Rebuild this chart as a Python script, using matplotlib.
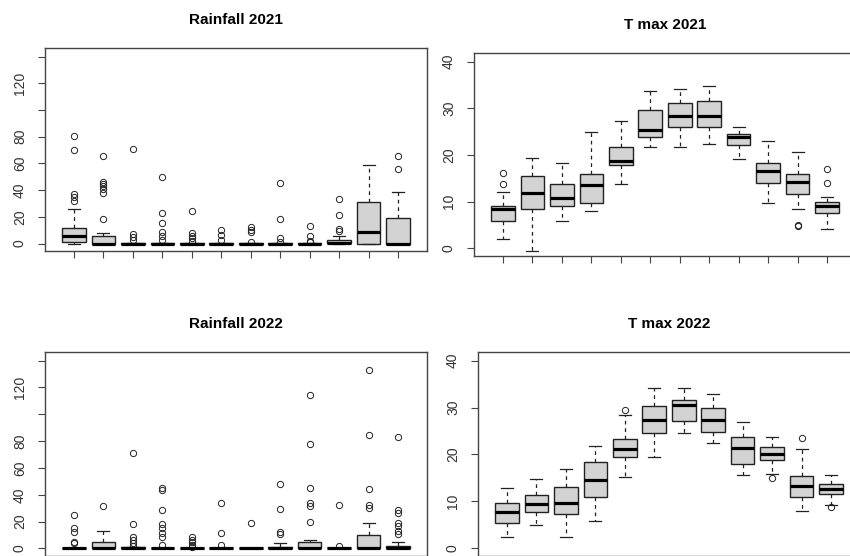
import numpy as np
import matplotlib
matplotlib.use("Agg")
import matplotlib.pyplot as plt

plt.rcParams['font.family'] = ['Liberation Sans', 'DejaVu Sans']

months = list(range(1, 13))

# Rainfall 2021
rain21_q1 = [0.8, 0, 0, 0, 0, 0, 0, 0, 0, 0.3, 0, 0]
rain21_med = [5.8, 0, 0, 0, 0, 0, 0, 0, 0, 0.4, 8.5, 0]
rain21_q3 = [11.5, 6.0, 0.5, 0.5, 0.5, 0.5, 0.5, 0.5, 0.5, 2.8, 30.9, 19.0]
rain21_lo = [0, 0, 0, 0, 0, 0, 0, 0, 0, 0, 0, 0]
rain21_hi = [26.2, 7.8, 0.5, 0.5, 0.5, 0.5, 0.5, 0.5, 0.5, 5.8, 58.9, 38.9]
rain21_out = [
    [80.8, 70.1, 37.0, 34.5, 32.0],
    [65.9, 46.4, 44.7, 42.7, 40.7, 37.7, 18.7],
    [71.1, 7.3, 4.8, 2.8],
    [49.7, 22.8, 15.3, 8.3, 5.3, 2.3],
    [24.5, 7.8, 5.8, 3.8, 2.0],
    [9.8, 6.5, 2.8],
    [12.0, 10.3, 8.3, 1.0],
    [45.2, 18.7, 4.0, 1.0],
    [13.3, 5.3, 2.0, 1.0],
    [33.5, 21.5, 10.8, 9.5],
    [],
    [65.9, 55.6],
]

# Rainfall 2022
rain22_q1 = [0, 0, 0, 0, 0, 0, 0, 0, 0, 0, 0, 0]
rain22_med = [0, 0, 0, 0, 0, 0, 0, 0, 0, 0, 0, 0]
rain22_q3 = [0.5, 5.2, 0.8, 0.5, 0.5, 0.5, 0.3, 1.0, 4.8, 0.5, 10.2, 2.0]
rain22_lo = [0, 0, 0, 0, 0, 0, 0, 0, 0, 0, 0, 0]
rain22_hi = [0.5, 13.4, 0.8, 0.5, 0.5, 0.5, 0.3, 4.0, 6.0, 0.5, 19.3, 5.2]
rain22_out = [
    [25.3, 15.2, 12.6, 5.2, 4.0],
    [32.0],
    [71.2, 17.9, 8.9, 6.5, 4.0, 2.0],
    [45.1, 43.9, 28.8, 17.9, 15.2, 11.9, 8.9, 2.8],
    [8.2, 6.5, 4.5, 2.8, 1.0],
    [34.2, 11.4, 2.8],
    [18.9],
    [48.4, 29.5, 12.6, 10.9],
    [114.6, 77.6, 45.4, 34.2, 31.7, 20.1],
    [32.5, 1.5],
    [133.2, 84.8, 44.1, 32.5, 30.0],
    [83.1, 28.8, 26.8, 19.3, 16.4, 13.4, 10.7],
]

# T max 2021
tmax21_q1 = [5.9, 8.4, 9.0, 9.7, 17.8, 23.9, 26.0, 25.9, 22.1, 13.9, 11.6, 7.5]
tmax21_med = [8.4, 11.8, 10.7, 13.5, 18.7, 25.4, 28.3, 28.3, 23.9, 16.6, 14.2, 9.1]
tmax21_q3 = [9.0, 15.6, 13.7, 15.9, 21.8, 29.6, 31.1, 31.5, 24.4, 18.3, 15.9, 9.9]
tmax21_lo = [1.9, -0.6, 5.8, 8.0, 13.7, 21.7, 21.7, 22.4, 19.1, 9.7, 8.5, 4.2]
tmax21_hi = [12.0, 19.3, 18.3, 25.0, 27.2, 33.8, 34.1, 34.8, 25.9, 22.9, 20.6, 10.9]
tmax21_out = [[16.1, 13.8], [], [], [], [], [], [], [], [], [], [4.9, 4.7], [16.9, 14.1]]

# T max 2022
tmax22_q1 = [5.3, 7.7, 7.2, 11.0, 19.5, 24.6, 27.2, 24.8, 18.0, 18.8, 11.0, 11.6]
tmax22_med = [7.7, 9.4, 9.6, 14.5, 21.1, 27.4, 30.6, 27.4, 21.4, 20.2, 13.2, 12.7]
tmax22_q3 = [9.6, 11.3, 13.0, 18.3, 23.2, 30.4, 31.7, 29.9, 23.8, 21.6, 15.5, 13.7]
tmax22_lo = [2.4, 5.0, 2.4, 5.9, 15.2, 19.4, 24.5, 22.4, 15.6, 15.9, 7.9, 9.3]
tmax22_hi = [12.8, 14.7, 17.0, 21.9, 28.4, 34.2, 34.2, 32.8, 26.9, 23.8, 21.2, 15.6]
tmax22_out = [[], [], [], [], [29.4], [], [], [], [], [14.9], [23.6], [8.7]]


def make_stats(q1, med, q3, lo, hi, out):
    stats = []
    for i in range(len(months)):
        stats.append(dict(q1=q1[i], med=med[i], q3=q3[i], whislo=lo[i],
                          whishi=hi[i], fliers=out[i]))
    return stats


def draw(ax, stats, title, ylim, yticks, ylabels):
    ax.bxp(stats, positions=months, widths=0.8, patch_artist=True,
           boxprops=dict(facecolor='#D3D3D3', edgecolor='#222222', linewidth=1.0),
           medianprops=dict(color='black', linewidth=2.3, solid_capstyle='butt'),
           whiskerprops=dict(color='#222222', linewidth=0.9, linestyle=(0, (3, 3))),
           capprops=dict(color='#222222', linewidth=0.9),
           flierprops=dict(marker='o', markerfacecolor='none', markeredgecolor='#222222',
                           markersize=4.5, markeredgewidth=0.7))
    ax.set_xlim(0.02, 12.98)
    ax.set_ylim(*ylim)
    ax.set_xticks(months)
    ax.set_xticklabels([''] * 12)
    ax.set_yticks(yticks)
    ax.set_yticklabels(ylabels, rotation=90, va='center', color='#333333', fontsize=10)
    ax.tick_params(axis='both', direction='out', length=5, width=0.8, colors='#444444')
    ax.tick_params(axis='y', pad=8, labelcolor='#333333')
    for s in ax.spines.values():
        s.set_color('#444444')
        s.set_linewidth(1.0)
    ax.set_title(title, fontweight='bold', fontsize=11, pad=17)


fig = plt.figure(figsize=(8.5, 5.56), dpi=100)
W, H = 850, 556


def add_axes(left, top, width, height):
    return fig.add_axes([left / W, (H - top - height) / H, width / W, height / H])


rain_ticks = [0, 20, 40, 60, 80, 100, 120, 140]
rain_labels = ['0', '20', '40', '60', '80', '', '120', '']
t_ticks = [0, 10, 20, 30, 40]
t_labels = ['0', '10', '20', '30', '40']

ax1 = add_axes(45, 48, 382, 203)
draw(ax1, make_stats(rain21_q1, rain21_med, rain21_q3, rain21_lo, rain21_hi, rain21_out),
     'Rainfall 2021', (-5.6, 146.4), rain_ticks, rain_labels)

ax2 = add_axes(474, 53, 382, 203)
draw(ax2, make_stats(tmax21_q1, tmax21_med, tmax21_q3, tmax21_lo, tmax21_hi, tmax21_out),
     'T max 2021', (-1.65, 41.85), t_ticks, t_labels)

ax3 = add_axes(45, 352, 382, 204)
draw(ax3, make_stats(rain22_q1, rain22_med, rain22_q3, rain22_lo, rain22_hi, rain22_out),
     'Rainfall 2022', (-5.6, 146.4), rain_ticks, rain_labels)

ax4 = add_axes(478, 352, 382, 204)
draw(ax4, make_stats(tmax22_q1, tmax22_med, tmax22_q3, tmax22_lo, tmax22_hi, tmax22_out),
     'T max 2022', (-1.65, 41.85), t_ticks, t_labels)

fig.savefig('out.png', dpi=100)
